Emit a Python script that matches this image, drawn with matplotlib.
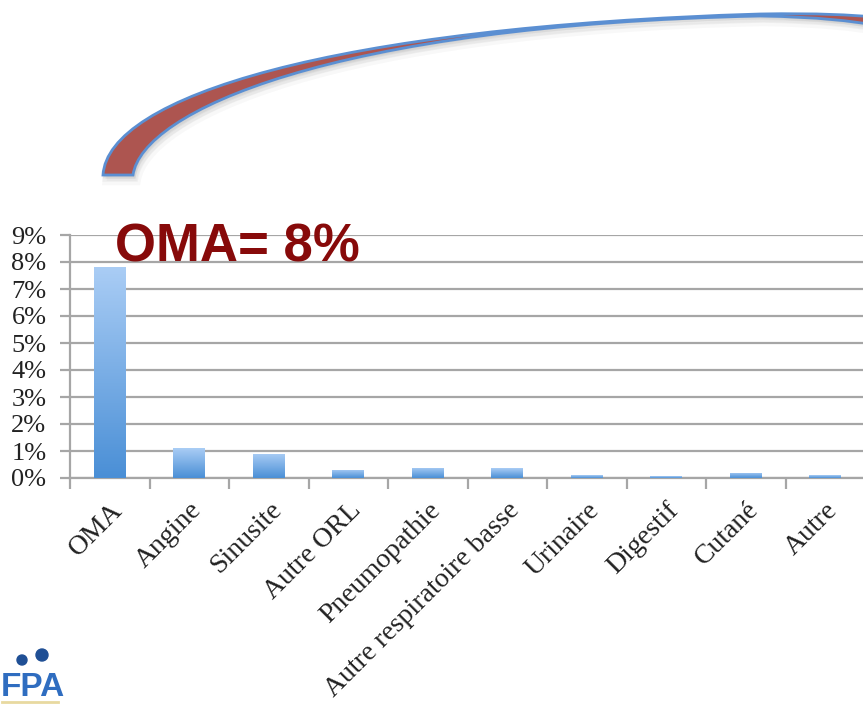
import numpy as np
import matplotlib
matplotlib.use("Agg")
import matplotlib.pyplot as plt
from matplotlib.path import Path
from matplotlib.patches import PathPatch, Circle
from matplotlib.ticker import FuncFormatter, FixedLocator

# ------------------ DONNEES ------------------
categories = ["OMA", "Angine", "Sinusite", "Autre ORL", "Pneumopathie",
              "Autre respiratoire basse", "Urinaire", "Digestif", "Cutané", "Autre"]
pourcentages = [7.8, 1.1, 0.9, 0.3, 0.38, 0.37, 0.1, 0.06, 0.19, 0.1]
y_max = 9
titre_oma = "OMA= 8%"
# ---------------------------------------------

W, H = 863, 710
fig = plt.figure(figsize=(W / 100, H / 100), dpi=100)
fig.patch.set_facecolor("white")

gris = "#a6a6a6"

# axe principal des barres
ax = fig.add_axes([70 / W, (H - 478) / H, 795 / W, 243 / H])
x = np.arange(len(categories))
barres = ax.bar(x, pourcentages, width=0.4, color="none", zorder=3)

# degrade vertical clair -> fonce dans chaque barre
grad = np.linspace(0, 1, 256).reshape(-1, 1)
cmap = matplotlib.colors.LinearSegmentedColormap.from_list("bleu", ["#4a8fd6", "#aacdf5"])
for b in barres:
    x0, w, h = b.get_x(), b.get_width(), b.get_height()
    im = ax.imshow(grad, cmap=cmap, origin="lower", aspect="auto",
                   extent=[x0, x0 + w, 0, h], zorder=3)
    im.set_clip_path(b)

ax.set_xlim(-0.5, len(categories) - 0.5)
ax.set_ylim(0, y_max)
ax.yaxis.set_major_locator(FixedLocator(range(0, y_max + 1)))
ax.yaxis.set_major_formatter(FuncFormatter(lambda v, p: f"{int(v)}%"))
ax.grid(axis="y", color=gris, linewidth=1.6, zorder=1)

for s in ["top", "right"]:
    ax.spines[s].set_visible(False)
for s in ["left", "bottom"]:
    ax.spines[s].set_color(gris)
    ax.spines[s].set_linewidth(1.6)

ax.tick_params(axis="y", length=7, width=1.6, color=gris, pad=10,
               labelsize=19, labelcolor="#222222")
ax.set_yticklabels([f"{v}%" for v in range(0, y_max + 1)], family="Liberation Serif")

# graduations x entre les categories, etiquettes centrees sans trait
ax.set_xticks(np.arange(len(categories) + 1) - 0.5)
ax.set_xticklabels([])
ax.tick_params(axis="x", which="major", length=8, width=1.6, color=gris)
ax.set_xticks(x, minor=True)
ax.set_xticklabels(categories, minor=True, rotation=45, ha="right",
                   rotation_mode="anchor", family="Liberation Serif",
                   fontsize=20, color="#222222")
ax.tick_params(axis="x", which="minor", length=0, pad=14)

# texte OMA
fig.text(115 / W, (H - 262) / H, titre_oma, color="#870a0a", fontsize=38,
         fontweight="bold", family="Liberation Sans",
         ha="left", va="baseline")

# fleche courbe decorative en haut
deco = fig.add_axes([0, 0, 1, 1], zorder=5)
deco.set_xlim(0, W)
deco.set_ylim(H, 0)
deco.axis("off")

verts = [(103, 175),
         (108, 97), (330, 27), (760, 14),
         (820, 13), (850, 15), (875, 17),
         (875, 25),
         (850, 21), (820, 17), (760, 16),
         (330, 25), (142, 112), (133, 175),
         (103, 175)]
codes = [Path.MOVETO,
         Path.CURVE4, Path.CURVE4, Path.CURVE4,
         Path.CURVE4, Path.CURVE4, Path.CURVE4,
         Path.LINETO,
         Path.CURVE4, Path.CURVE4, Path.CURVE4,
         Path.CURVE4, Path.CURVE4, Path.CURVE4,
         Path.CLOSEPOLY]
fleche = Path(verts, codes)

# ombre douce
for k, a in [(6, 0.05), (4, 0.07), (2, 0.1)]:
    ombre = Path(np.array(verts) + [k * 0.6, k], codes)
    deco.add_patch(PathPatch(ombre, facecolor="#777777", edgecolor="#777777",
                             linewidth=k, alpha=a))
deco.add_patch(PathPatch(fleche, facecolor="#ad5550", edgecolor="#5b8fd2",
                         linewidth=2.0))

# petit logo en bas a gauche
deco.text(1, 696, "FPA", color="#2f6dc0", fontsize=24, fontweight="bold",
          family="Liberation Sans", ha="left", va="baseline")
deco.add_patch(Circle((22, 660), 5, color="#1f4f95"))
deco.add_patch(Circle((42, 655), 6, color="#1f4f95"))
deco.plot([2, 58], [702, 702], color="#e8d9a0", linewidth=2)

fig.savefig("out.png", dpi=100)
